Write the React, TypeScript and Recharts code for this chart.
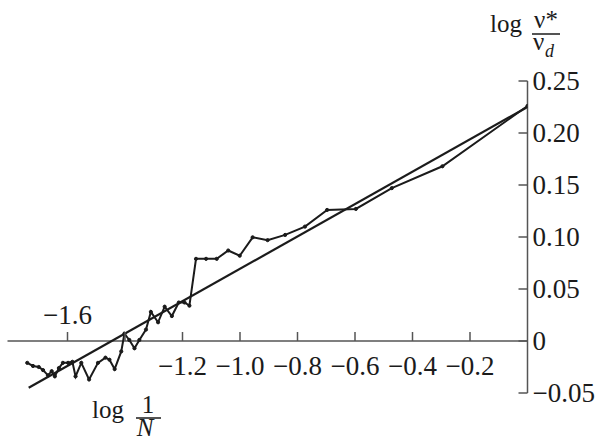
import React from 'react';
import { ComposedChart, Line, XAxis, YAxis, ReferenceLine, Customized } from 'recharts';

// measured series: log(1/N) vs log(nu*/nu_d)
const xValues = [
  -1.74, -1.72, -1.70, -1.685, -1.668, -1.655, -1.644, -1.630, -1.616, -1.598,
  -1.583, -1.572, -1.552, -1.525, -1.494, -1.468, -1.454, -1.436, -1.413, -1.402,
  -1.385, -1.367, -1.350, -1.327, -1.310, -1.285, -1.262, -1.237, -1.213, -1.193,
  -1.176, -1.153, -1.118, -1.081, -1.041, -1.001, -0.956, -0.904, -0.843, -0.774,
  -0.697, -0.597, -0.472, -0.296, 0.0,
];
const yValues = [
  -0.021, -0.024, -0.025, -0.028, -0.033, -0.029, -0.034, -0.026, -0.021, -0.021,
  -0.020, -0.034, -0.021, -0.037, -0.021, -0.016, -0.018, -0.027, -0.010, 0.007,
  0.001, -0.007, 0.001, 0.011, 0.028, 0.018, 0.033, 0.024, 0.037, 0.037,
  0.034, 0.079, 0.079, 0.079, 0.087, 0.082, 0.0997, 0.097, 0.102, 0.110,
  0.126, 0.127, 0.147, 0.168, 0.226,
];

// linear fit
const fitX = [-1.735, 0.0];
const fitY = [-0.045, 0.225];

const xTicks = [-1.6, -1.4, -1.2, -1.0, -0.8, -0.6, -0.4, -0.2];
const xTickLabels = ['\u22121.6', '', '\u22121.2', '\u22121.0', '\u22120.8', '\u22120.6', '\u22120.4', '\u22120.2'];
const yTicks = [-0.05, 0, 0.05, 0.1, 0.15, 0.2, 0.25];
const yTickLabels = ['\u22120.05', '0', '0.05', '0.10', '0.15', '0.20', '0.25'];

const X_DOMAIN: [number, number] = [-1.8087, 0];
const Y_DOMAIN: [number, number] = [-0.05, 0.25];

const seriesData = xValues.map((x, i) => ({ x, y: yValues[i] }));
const fitData = fitX.map((x, i) => ({ x, y: fitY[i] }));

const W = 599;
const H = 440;
const TOP = 81;
const LEFT = 7.5;
const PLOT_RIGHT = 527.5;
const PLOT_BOTTOM = 393;
const YAXIS_W = 60;
const XAXIS_H = 20;
const PLOT_H = PLOT_BOTTOM - TOP;
const ZERO_Y = TOP + (PLOT_H * (Y_DOMAIN[1] - 0)) / (Y_DOMAIN[1] - Y_DOMAIN[0]);

const FONT = "'Liberation Serif', 'Times New Roman', Times, serif";
const AXIS_COLOR = '#555';
const INK = '#1b1b1b';
const TICK_FS = 27;

function XTick(props: any) {
  const { x, payload } = props;
  const i = xTicks.findIndex((t) => Math.abs(t - payload.value) < 1e-9);
  const label = i >= 0 ? xTickLabels[i] : '';
  const above = Math.abs(payload.value + 1.6) < 1e-9;
  return (
    <g>
      <line x1={x} x2={x} y1={ZERO_Y} y2={ZERO_Y - 9} stroke={AXIS_COLOR} strokeWidth={1.5} />
      {label ? (
        <text
          x={x}
          y={above ? ZERO_Y - 26 : ZERO_Y + 25}
          textAnchor="middle"
          dominantBaseline="central"
          style={{ fontFamily: FONT }}
          fontSize={TICK_FS}
          fill={INK}
        >
          {label}
        </text>
      ) : null}
    </g>
  );
}

function YTick(props: any) {
  const { y, payload } = props;
  const i = yTicks.findIndex((t) => Math.abs(t - payload.value) < 1e-9);
  const label = i >= 0 ? yTickLabels[i] : '';
  return (
    <g>
      <line x1={PLOT_RIGHT - 9} x2={PLOT_RIGHT} y1={y} y2={y} stroke={AXIS_COLOR} strokeWidth={1.5} />
      <text
        x={PLOT_RIGHT + 5}
        y={y}
        textAnchor="start"
        dominantBaseline="central"
        style={{ fontFamily: FONT }}
        fontSize={TICK_FS}
        fill={INK}
      >
        {label}
      </text>
    </g>
  );
}

function Titles() {
  return (
    <g style={{ fontFamily: FONT }} fill={INK}>
      {/* y title: log nu* / nu_d */}
      <text x={490} y={32} fontSize={25}>log</text>
      <text x={546} y={28} fontSize={25} textAnchor="middle">{'\u03bd*'}</text>
      <line x1={532} x2={560} y1={34} y2={34} stroke={INK} strokeWidth={1.5} />
      <text x={533} y={50} fontSize={25}>{'\u03bd'}</text>
      <text x={545} y={57} fontSize={18} fontStyle="italic">d</text>
      {/* x title: log 1/N */}
      <text x={92} y={418} fontSize={25}>log</text>
      <text x={148} y={413} fontSize={25} textAnchor="middle">1</text>
      <line x1={136} x2={161} y1={418} y2={418} stroke={INK} strokeWidth={1.5} />
      <text x={145} y={436} fontSize={25} fontStyle="italic" textAnchor="middle">N</text>
    </g>
  );
}

export default function App() {
  return (
    <div style={{ position: 'absolute', left: 0, top: 0, width: W, height: H, background: '#fff' }}>
      <ComposedChart
        width={W}
        height={H}
        margin={{ top: TOP, left: LEFT, right: W - PLOT_RIGHT - YAXIS_W, bottom: H - PLOT_BOTTOM - XAXIS_H }}
      >
        <XAxis
          type="number"
          dataKey="x"
          domain={X_DOMAIN}
          allowDataOverflow
          ticks={xTicks}
          interval={0}
          axisLine={false}
          tickLine={false}
          tick={<XTick />}
          height={XAXIS_H}
        />
        <YAxis
          type="number"
          dataKey="y"
          orientation="right"
          domain={Y_DOMAIN}
          allowDataOverflow
          ticks={yTicks}
          interval={0}
          width={YAXIS_W}
          axisLine={{ stroke: AXIS_COLOR, strokeWidth: 1.5 }}
          tickLine={false}
          tickSize={0}
          tick={<YTick />}
        />
        <ReferenceLine y={0} stroke={AXIS_COLOR} strokeWidth={1.5} />
        <Line
          data={fitData}
          dataKey="y"
          type="linear"
          stroke={INK}
          strokeWidth={2.2}
          dot={false}
          isAnimationActive={false}
        />
        <Line
          data={seriesData}
          dataKey="y"
          type="linear"
          stroke={INK}
          strokeWidth={2}
          dot={{ r: 1.6, fill: INK, stroke: INK, strokeWidth: 1 }}
          isAnimationActive={false}
        />
        <Customized component={<Titles />} />
      </ComposedChart>
    </div>
  );
}
